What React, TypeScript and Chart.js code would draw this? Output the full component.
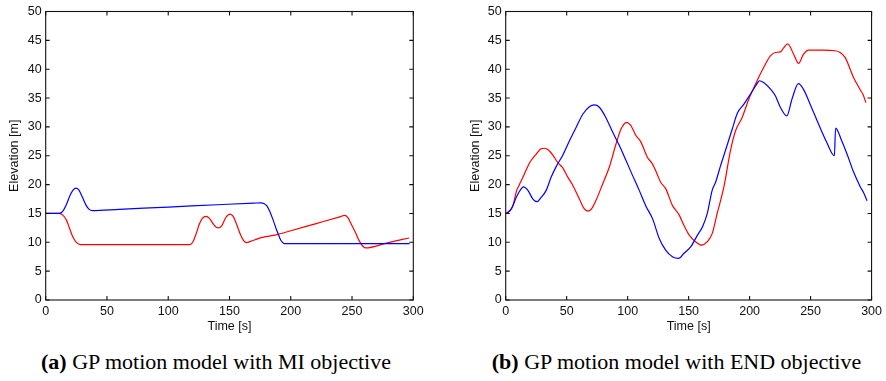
import React, { useEffect, useRef } from "react";
import { Chart, registerables } from "chart.js";

Chart.register(...registerables);

// Axis ticks
const timeTicks = [0, 50, 100, 150, 200, 250, 300];
const elevTicks = [0, 5, 10, 15, 20, 25, 30, 35, 40, 45, 50];

// (a) GP motion model with MI objective
const miBlueTime = [0, 11, 14, 17, 20, 22.5, 24.7, 27, 30, 33, 35.5, 38, 60, 100, 140, 170, 175.7, 178, 180.5, 183, 185.7, 188, 190, 192, 194, 196, 250, 297];
const miBlueElev = [15, 15, 15.4, 16.6, 18.2, 19.1, 19.4, 19.1, 17.8, 16.4, 15.7, 15.5, 15.72, 16.11, 16.51, 16.8, 16.84, 16.72, 16.3, 15.3, 13.8, 12.4, 11.3, 10.3, 9.85, 9.76, 9.76, 9.76];
const miRedTime = [0, 11, 14, 17, 19.5, 22, 25, 28.5, 60, 117.5, 120, 122.5, 125.5, 128, 130.8, 133.5, 137, 140.5, 143.5, 147, 150.5, 153, 156, 159, 161.5, 164, 167, 171, 176, 188, 200, 220, 240, 244, 246.5, 249.5, 253, 256, 258.5, 261, 278, 296.5];
const miRedElev = [15, 15, 14.7, 13.8, 12.4, 11.0, 10.0, 9.6, 9.6, 9.6, 10.0, 11.3, 13.2, 14.2, 14.5, 14.2, 13.1, 12.5, 12.8, 14.3, 14.9, 14.5, 13.0, 11.3, 10.3, 9.95, 10.15, 10.45, 10.8, 11.3, 12.0, 13.2, 14.4, 14.65, 14.3, 13.1, 11.6, 10.2, 9.4, 9.02, 9.85, 10.75];

// (b) GP motion model with END objective
const endBlueTime = [0.5, 4.6, 8.7, 12.8, 14.6, 18.2, 22.3, 25.7, 29.1, 33.2, 37.3, 41.6, 46.8, 52.3, 57.7, 63.2, 68.6, 72.7, 76.8, 82.2, 87.7, 93.1, 98.6, 104, 109.5, 114.9, 120.4, 126, 131.3, 136.7, 141.8, 146.2, 152, 157.1, 161.4, 165.3, 169.3, 172.1, 176.2, 180.2, 185.7, 190, 195.2, 200.7, 206.1, 208, 211.5, 217.3, 221.1, 225.2, 230.5, 234.7, 240, 244.2, 249.7, 256.5, 263.3, 269.5, 270.5, 275.5, 280.4, 285, 290.8, 293.5, 296.3];
const endBlueElev = [15.05, 15.8, 17.8, 19.3, 19.6, 19.0, 17.5, 17.05, 17.8, 19.0, 21.3, 23.2, 25.1, 27.6, 29.9, 32.2, 33.5, 33.8, 33.4, 31.6, 29.1, 26.8, 24.2, 21.6, 19.0, 16.3, 14.1, 10.6, 8.6, 7.5, 7.2, 8.1, 9.3, 11.2, 12.7, 15.0, 19.0, 20.4, 23.3, 25.9, 29.6, 32.4, 33.9, 35.7, 37.5, 38.0, 37.7, 36.5, 35.4, 33.4, 31.9, 34.8, 37.5, 36.5, 33.9, 30.5, 27.3, 25.0, 29.8, 27.6, 25.0, 22.3, 19.6, 18.6, 17.2];
const endRedTime = [0.5, 3, 6, 9, 11, 14.2, 19.6, 25, 29, 32, 35, 38.7, 42.7, 46.8, 50.9, 55, 60.4, 64.5, 67.8, 71.3, 74.1, 79.5, 84.9, 90.4, 94.5, 99.1, 102.7, 106.8, 110.8, 116.3, 120.3, 124.4, 127.1, 131.2, 136.7, 142.1, 146.2, 150.3, 155.7, 160.6, 165.3, 169.3, 173.4, 178.9, 184.3, 188.4, 193.8, 199.3, 206.1, 211.5, 217, 221.1, 225.2, 227.9, 231.2, 236.1, 240.1, 244.2, 248.3, 260, 270.1, 274.2, 278.4, 285.3, 290.8, 293, 295.4];
const endRedElev = [15, 15.3, 16.4, 19.0, 19.9, 21.3, 23.8, 25.3, 26.2, 26.3, 26.0, 25.1, 23.8, 22.9, 21.3, 19.9, 17.5, 15.8, 15.4, 16.1, 17.3, 20.1, 23.0, 27.0, 29.6, 30.8, 30.2, 28.5, 27.4, 24.7, 23.6, 21.7, 20.4, 19.3, 16.4, 14.8, 12.9, 11.3, 10.1, 9.5, 10.1, 11.5, 15.0, 19.6, 25.9, 29.3, 31.6, 34.8, 38.0, 40.3, 42.3, 42.9, 43.0, 43.7, 44.4, 42.6, 41.0, 42.6, 43.3, 43.3, 43.2, 42.9, 42.0, 38.5, 36.4, 35.6, 34.2];

const FONT = "'Liberation Sans', Arial, Helvetica, sans-serif";

const toPoints = (xs: number[], ys: number[]) => xs.map((x, i) => ({ x, y: ys[i] }));

const boxPlugin = {
  id: "matlabBox",
  afterDatasetsDraw(chart: any) {
    const { ctx, chartArea } = chart;
    const { left, right, top, bottom } = chartArea;
    const xs = chart.scales.x;
    const ys = chart.scales.y;
    const L = 4;
    ctx.save();
    ctx.strokeStyle = "#111";
    ctx.lineWidth = 1.1;
    ctx.strokeRect(left, top, right - left, bottom - top);
    ctx.beginPath();
    xs.ticks.forEach((t: any) => {
      const px = xs.getPixelForValue(t.value);
      ctx.moveTo(px, bottom);
      ctx.lineTo(px, bottom - L);
      ctx.moveTo(px, top);
      ctx.lineTo(px, top + L);
    });
    ys.ticks.forEach((t: any) => {
      const py = ys.getPixelForValue(t.value);
      ctx.moveTo(left, py);
      ctx.lineTo(left + L, py);
      ctx.moveTo(right, py);
      ctx.lineTo(right - L, py);
    });
    ctx.stroke();
    ctx.restore();
  },
};

type PlotProps = {
  blueT: number[];
  blueE: number[];
  redT: number[];
  redE: number[];
  yAxisWidth: number;
  rightPad: number;
  yTitlePad: number;
};

function Plot({ blueT, blueE, redT, redE, yAxisWidth, rightPad, yTitlePad }: PlotProps) {
  const ref = useRef<HTMLCanvasElement>(null);
  useEffect(() => {
    if (!ref.current) return;
    const chart = new Chart(ref.current, {
      type: "line",
      data: {
        datasets: [
          {
            data: toPoints(blueT, blueE),
            borderColor: "#0000ff",
            borderWidth: 1.2,
            pointRadius: 0,
            cubicInterpolationMode: "monotone",
            fill: false,
          },
          {
            data: toPoints(redT, redE),
            borderColor: "#ff0000",
            borderWidth: 1.2,
            pointRadius: 0,
            cubicInterpolationMode: "monotone",
            fill: false,
          },
        ],
      },
      options: {
        responsive: false,
        animation: false,
        events: [],
        layout: { padding: { top: 10.3, right: rightPad, left: 0, bottom: 0 } },
        plugins: { legend: { display: false }, tooltip: { enabled: false } },
        scales: {
          x: {
            type: "linear",
            min: 0,
            max: 300,
            afterBuildTicks: (s: any) => {
              s.ticks = timeTicks.map((v) => ({ value: v }));
            },
            afterFit: (s: any) => {
              s.height = 40;
            },
            grid: { display: false, drawTicks: false },
            border: { display: false },
            ticks: { color: "#111", padding: 4, maxRotation: 0, font: { family: FONT, size: 12.5 } },
            title: {
              display: true,
              text: "Time [s]",
              color: "#111",
              font: { family: FONT, size: 12.5 },
              padding: { top: 0, bottom: 5.5 },
            },
          },
          y: {
            type: "linear",
            min: 0,
            max: 50,
            afterBuildTicks: (s: any) => {
              s.ticks = elevTicks.map((v) => ({ value: v }));
            },
            afterFit: (s: any) => {
              s.width = yAxisWidth;
            },
            grid: { display: false, drawTicks: false },
            border: { display: false },
            ticks: { color: "#111", padding: 4, font: { family: FONT, size: 12.5 } },
            title: {
              display: true,
              text: "Elevation [m]",
              color: "#111",
              font: { family: FONT, size: 12.5 },
              padding: { top: yTitlePad, bottom: 0 },
            },
          },
        },
      },
      plugins: [boxPlugin],
    } as any);
    return () => chart.destroy();
  }, []);
  return <canvas ref={ref} width={443} height={340} style={{ display: "block" }} />;
}

const captionStyle: React.CSSProperties = {
  position: "absolute",
  top: 351,
  width: 500,
  textAlign: "center",
  fontFamily: "'Liberation Serif', 'Times New Roman', serif",
  fontSize: 22,
  lineHeight: "22px",
  color: "#000",
  whiteSpace: "nowrap",
};

export default function App() {
  return (
    <div style={{ position: "absolute", left: 0, top: 0, width: 886, height: 381, background: "#fff" }}>
      <div style={{ position: "absolute", left: 0, top: 0 }}>
        <Plot blueT={miBlueTime} blueE={miBlueElev} redT={miRedTime} redE={miRedElev} yAxisWidth={45.7} rightPad={29.7} yTitlePad={7} />
      </div>
      <div style={{ position: "absolute", left: 443, top: 0 }}>
        <Plot blueT={endBlueTime} blueE={endBlueElev} redT={endRedTime} redE={endRedElev} yAxisWidth={62.7} rightPad={13} yTitlePad={25} />
      </div>
      <div style={{ ...captionStyle, left: 216 - 250 }}>
        <b>(a)</b> GP motion model with MI objective
      </div>
      <div style={{ ...captionStyle, left: 676.5 - 250 }}>
        <b>(b)</b> GP motion model with END objective
      </div>
    </div>
  );
}
